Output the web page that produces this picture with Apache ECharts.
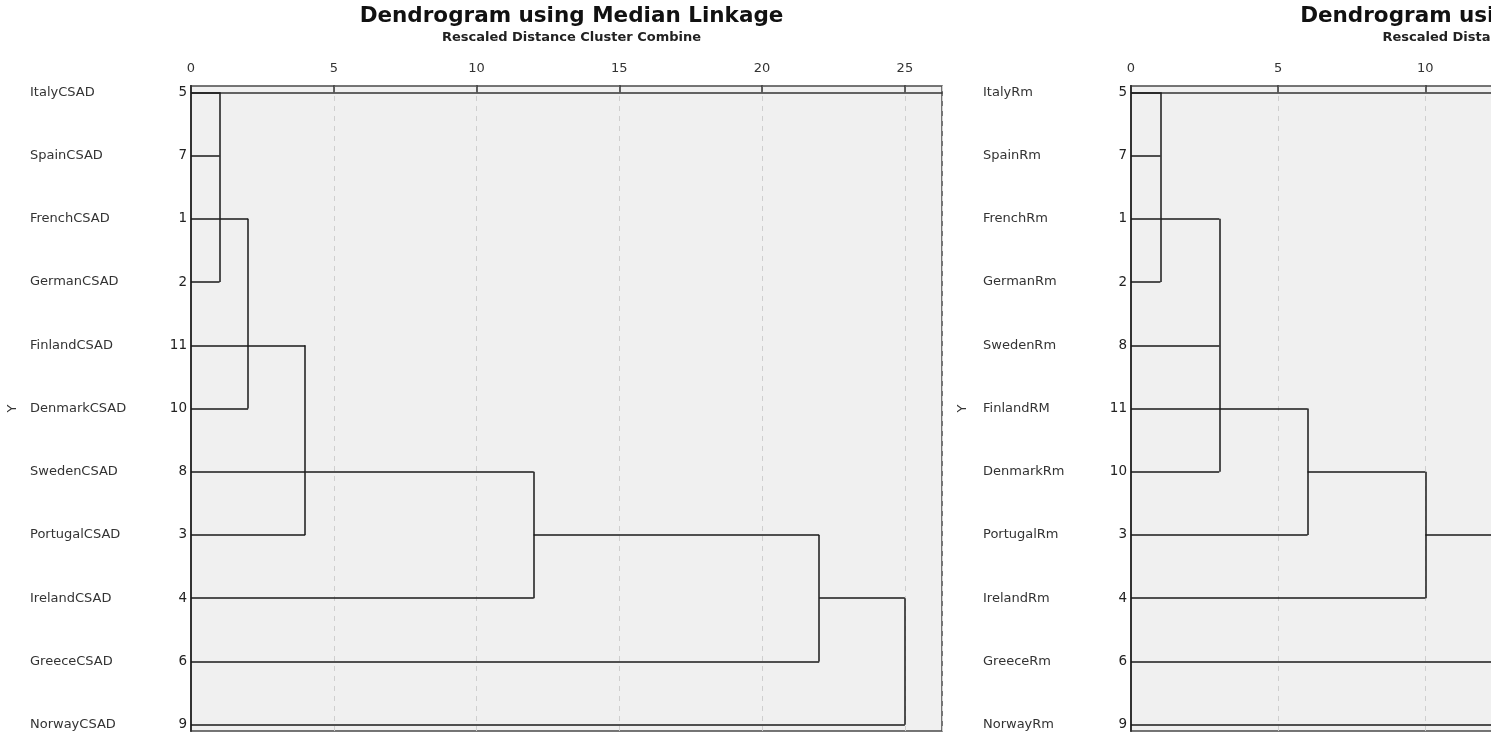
<!DOCTYPE html>
<html>
<head>
<meta charset="utf-8">
<script src="https://cdn.jsdelivr.net/npm/echarts@6/dist/echarts.min.js"></script>
<style>html,body{margin:0;padding:0;background:#fff;}#c{width:1491px;height:740px;}</style>
</head>
<body>
<div id="c"></div>
<script>
// ---------- data ----------
var titleText = 'Dendrogram using Median Linkage';
var subTitleText = 'Rescaled Distance Cluster Combine';
var xTicks = [0, 5, 10, 15, 20, 25];

// left dendrogram
var leftNames = ['ItalyCSAD','SpainCSAD','FrenchCSAD','GermanCSAD','FinlandCSAD','DenmarkCSAD','SwedenCSAD','PortugalCSAD','IrelandCSAD','GreeceCSAD','NorwayCSAD'];
var leftIds = [5, 7, 1, 2, 11, 10, 8, 3, 4, 6, 9];
var leftLeafEnd = [1, 1, 1, 1, 2, 2, 4, 4, 12, 22, 25];
var leftMergeDist = [1, 2, 4, 12, 22, 25];
var leftMergeTop = [0, 2, 4, 6, 7, 8];
var leftMergeBottom = [3, 5, 7, 8, 9, 10];
var leftMergeRow = [2, 4, 6, 7, 8, null];
var leftMax = 26.3;

// right dendrogram
var rightNames = ['ItalyRm','SpainRm','FrenchRm','GermanRm','SwedenRm','FinlandRM','DenmarkRm','PortugalRm','IrelandRm','GreeceRm','NorwayRm'];
var rightIds = [5, 7, 1, 2, 8, 11, 10, 3, 4, 6, 9];
var rightLeafEnd = [1, 1, 1, 1, 3, 3, 3, 6, 10, 22, 25];
var rightMergeDist = [1, 3, 6, 10, 22, 25];
var rightMergeTop = [0, 2, 5, 6, 7, 8];
var rightMergeBottom = [3, 6, 7, 8, 9, 10];
var rightMergeRow = [2, 5, 6, 7, 8, null];
var rightMax = 25.55;

// ---------- build ----------
function segments(leafEnd, mDist, mTop, mBot, mRow) {
  var segs = [];
  for (var r = 0; r < leafEnd.length; r++) {
    segs.push({coords: [[0, r], [leafEnd[r], r]]});
  }
  for (var i = 0; i < mDist.length; i++) {
    segs.push({coords: [[mDist[i], mTop[i]], [mDist[i], mBot[i]]]});
    if (mRow[i] !== null && i + 1 < mDist.length) {
      segs.push({coords: [[mDist[i], mRow[i]], [mDist[i + 1], mRow[i]]]});
    }
  }
  return segs;
}
var rowValues = leftNames.map(function (n, i) { return i; });

var layouts = [
  {left: 191, width: 751, max: leftMax, names: leftNames, ids: leftIds, nameMargin: 161, yNameGap: 172,
   segs: segments(leftLeafEnd, leftMergeDist, leftMergeTop, leftMergeBottom, leftMergeRow)},
  {left: 1131, width: 752, max: rightMax, names: rightNames, ids: rightIds, nameMargin: 148, yNameGap: 162,
   segs: segments(rightLeafEnd, rightMergeDist, rightMergeTop, rightMergeBottom, rightMergeRow)}
];

var font = 'DejaVu Sans';
var option = {
  animation: false,
  backgroundColor: '#ffffff',
  title: [], grid: [], xAxis: [], yAxis: [], series: []
};

layouts.forEach(function (L, g) {
  option.title.push({
    text: titleText, subtext: subTitleText,
    left: L.left + L.width / 2, top: 0, textAlign: 'center', itemGap: 4,
    textStyle: {fontFamily: font, fontSize: 21.5, fontWeight: 'bold', color: '#111'},
    subtextStyle: {fontFamily: font, fontSize: 13, fontWeight: 'bold', color: '#222'}
  });
  option.grid.push({
    left: L.left, width: L.width, top: 86, bottom: 9,
    outerBoundsMode: 'none', containLabel: false,
    show: true, backgroundColor: '#f0f0f0', borderColor: '#4a4a4a', borderWidth: 1.5
  });
  option.xAxis.push({
    gridIndex: g, type: 'value', position: 'top', min: 0, max: L.max, interval: 5,
    axisLine: {show: true, lineStyle: {color: '#333', width: 1.5}},
    axisTick: {show: true, length: 7, lineStyle: {color: '#333', width: 1.5}},
    axisLabel: {fontFamily: font, fontSize: 13, color: '#333', margin: 11, showMaxLabel: false},
    splitLine: {show: true, lineStyle: {color: '#cfcfcf', type: [5, 5], width: 1}}
  });
  // numbers axis
  option.yAxis.push({
    gridIndex: g, type: 'value', position: 'left', inverse: true, min: -0.1, max: 10.1,
    name: 'Y', nameLocation: 'middle', nameRotate: 90, nameGap: L.yNameGap,
    nameTextStyle: {fontFamily: font, fontSize: 13, color: '#333'},
    axisLine: {show: true, lineStyle: {color: '#333', width: 2}},
    axisTick: {show: false},
    splitLine: {show: false},
    axisLabel: {
      customValues: rowValues, margin: 4, fontFamily: font, fontSize: 13.5, color: '#222',
      formatter: (function (ids) { return function (v) { return String(ids[Math.round(v)]); }; })(L.ids)
    }
  });
  // names axis
  option.yAxis.push({
    gridIndex: g, type: 'value', position: 'left', offset: 0, inverse: true, min: -0.1, max: 10.1,
    axisLine: {show: false}, axisTick: {show: false}, splitLine: {show: false},
    axisLabel: {
      customValues: rowValues, margin: L.nameMargin, align: 'left', fontFamily: font, fontSize: 13, color: '#333',
      padding: [4, 0, 0, 0],
      formatter: (function (names) { return function (v) { return names[Math.round(v)]; }; })(L.names)
    }
  });
  option.series.push({
    type: 'lines', coordinateSystem: 'cartesian2d', xAxisIndex: g, yAxisIndex: g * 2,
    polyline: false, silent: true,
    lineStyle: {color: '#1a1a1a', width: 1.5, opacity: 1},
    data: L.segs
  });
});

var chart = echarts.init(document.getElementById('c'), null, {renderer: 'canvas'});
chart.setOption(option);
</script>
</body>
</html>
